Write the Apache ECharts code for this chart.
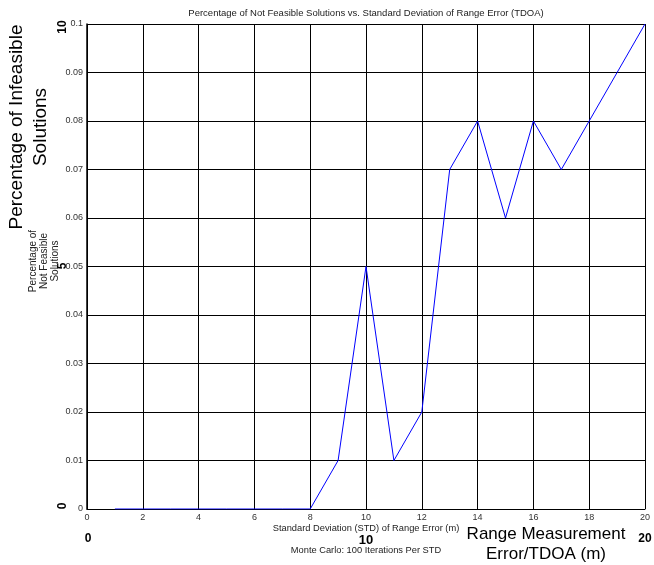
<!DOCTYPE html>
<html><head><meta charset="utf-8">
<script src="https://cdn.jsdelivr.net/npm/echarts@6/dist/echarts.min.js"></script>
<style>html,body{margin:0;padding:0;background:#fff}#c{width:654px;height:565px}</style>
</head><body><div id="c"></div>
<script>
const stdValues = [1,2,3,4,5,6,7,8,9,10,11,12,13,14,15,16,17,18,19,20];
const infeasible = [0,0,0,0,0,0,0,0,0.01,0.05,0.01,0.02,0.07,0.08,0.06,0.08,0.07,0.08,0.09,0.1];
const titleText = 'Percentage of Not Feasible Solutions vs. Standard Deviation of Range Error (TDOA)';
const xName = 'Standard Deviation (STD) of Range Error (m)';
const subNote = 'Monte Carlo: 100 Iterations Per STD';
const F = 'Liberation Sans, Arial, sans-serif';
const chart = echarts.init(document.getElementById('c'));
const L = 87, T = 24, W = 558, H = 485;
chart.setOption({
  animation: false,
  grid: {left: L, top: T, width: W, height: H},
  xAxis: {type: 'value', min: 0, max: 20, interval: 2,
    axisLine: {show: true, onZero: false, lineStyle: {color: '#000', width: 1}},
    axisTick: {show: false},
    axisLabel: {color: '#333', fontSize: 9, fontFamily: F, margin: 4},
    splitLine: {show: true, lineStyle: {color: '#000', width: 1}}},
  yAxis: {type: 'value', min: 0, max: 0.1, interval: 0.01,
    axisLine: {show: true, lineStyle: {color: '#000', width: 1.5}},
    axisTick: {show: false},
    axisLabel: {color: '#333', fontSize: 9, fontFamily: F, margin: 4,
      formatter: v => (Math.round(v*100)/100).toString()},
    splitLine: {show: true, lineStyle: {color: '#000', width: 1}}},
  series: [{type: 'line', data: stdValues.map((x,i)=>[x, infeasible[i]]),
    showSymbol: false, lineStyle: {color: '#0000ff', width: 1}, color: '#0000ff'}],
  graphic: [
    {type:'text', x:366, y:13, style:{text:titleText, font:'9.5px '+F, fill:'#222', align:'center', verticalAlign:'middle'}},
    {type:'text', x:366, y:528, style:{text:xName, font:'9.3px '+F, fill:'#222', align:'center', verticalAlign:'middle'}},
    {type:'text', x:366, y:540, style:{text:'10', font:'bold 13px '+F, fill:'#000', align:'center', verticalAlign:'middle'}},
    {type:'text', x:366, y:550, style:{text:subNote, font:'9.3px '+F, fill:'#222', align:'center', verticalAlign:'middle'}},
    {type:'text', x:88, y:539, style:{text:'0', font:'bold 12px '+F, fill:'#000', align:'center', verticalAlign:'middle'}},
    {type:'text', x:645, y:539, style:{text:'20', font:'bold 12px '+F, fill:'#000', align:'center', verticalAlign:'middle'}},
    {type:'text', x:546, y:544, style:{text:'Range Measurement\nError/TDOA (m)', font:'17px '+F, lineHeight:20, fill:'#000', align:'center', verticalAlign:'middle'}},
    {type:'text', x:63, y:27, rotation:Math.PI/2, style:{text:'10', font:'bold 12px '+F, fill:'#000', align:'center', verticalAlign:'middle'}},
    {type:'text', x:63, y:266, rotation:Math.PI/2, style:{text:'5', font:'bold 12px '+F, fill:'#000', align:'center', verticalAlign:'middle'}},
    {type:'text', x:63, y:506, rotation:Math.PI/2, style:{text:'0', font:'bold 12px '+F, fill:'#000', align:'center', verticalAlign:'middle'}},
    {type:'text', x:29, y:127, rotation:Math.PI/2, style:{text:'Percentage of Infeasible\nSolutions', font:'19px '+F, lineHeight:24, fill:'#000', align:'center', verticalAlign:'middle'}},
    {type:'text', x:44, y:261, rotation:Math.PI/2, style:{text:'Percentage of\nNot Feasible\nSolutions', font:'10px '+F, lineHeight:11, fill:'#222', align:'center', verticalAlign:'middle'}}
  ]
});
</script></body></html>
